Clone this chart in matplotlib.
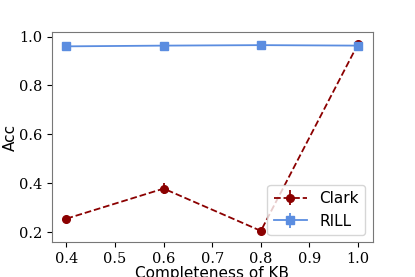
import matplotlib
matplotlib.use('Agg')
import matplotlib.pyplot as plt

# completeness levels and accuracies
completeness = [0.4, 0.6, 0.8, 1.0]
clark_acc = [0.255, 0.378, 0.205, 0.970]
clark_err = [0.008, 0.022, 0.008, 0.008]
rill_acc = [0.960, 0.963, 0.965, 0.963]
rill_err = [0.006, 0.006, 0.006, 0.006]
xticks = [0.4, 0.5, 0.6, 0.7, 0.8, 0.9, 1.0]
yticks = [0.2, 0.4, 0.6, 0.8, 1.0]

fig = plt.figure(figsize=(4.15, 2.77), dpi=100)
ax = fig.add_axes([0.125, 0.125, 0.773, 0.758])

ax.errorbar(completeness, clark_acc, yerr=clark_err, color='#8b0000', ls='--',
            marker='o', markersize=5.5, lw=1.3, label='Clark')
ax.errorbar(completeness, rill_acc, yerr=rill_err, color='#5b8de0', ls='-',
            marker='s', markersize=5.5, lw=1.3, label='RILL')

serif = {'family': 'DejaVu Serif', 'size': 10.5}
ax.set_xticks(xticks)
ax.set_xticklabels([f'{v:.1f}' for v in xticks], fontdict=serif)
ax.set_yticks(yticks)
ax.set_yticklabels([f'{v:.1f}' for v in yticks], fontdict=serif)

ax.set_xlabel('Completeness of KB', fontsize=11, labelpad=0)
ax.set_ylabel('Acc', fontsize=11)
ax.yaxis.set_label_coords(-0.105, 0.5)

for sp in ax.spines.values():
    sp.set_color('#777777')

ax.legend(loc='lower right', handlelength=2.2, fontsize=11)

fig.savefig('out.png', dpi=100)
